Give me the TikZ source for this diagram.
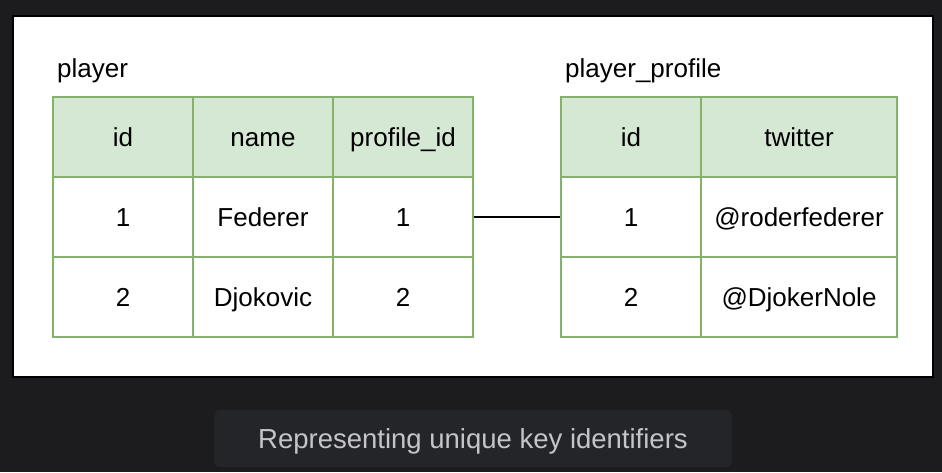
\documentclass[tikz,border=0pt]{standalone}
\usepackage{fontspec}
\setmainfont{Liberation Sans}
\definecolor{bgdark}{HTML}{1C1C1E}
\definecolor{capfill}{HTML}{242528}
\definecolor{captext}{HTML}{C5C5C9}
\definecolor{hdrfill}{HTML}{D5E8D4}
\definecolor{cellline}{HTML}{82B366}
\newcommand\tabfont{\fontsize{26}{30}\selectfont}
\newcommand\capfont{\fontsize{27.5}{32}\selectfont}
\tikzset{
  cell/.style={draw=cellline, line width=2pt, minimum width=140pt, minimum height=80pt, inner sep=0pt, font=\tabfont, text=black, text height=18.6pt, text depth=0pt},
  hdr/.style={cell, fill=hdrfill},
  wide/.style={minimum width=196pt},
  title/.style={anchor=base west, font=\tabfont, text=black, inner sep=0pt},
}
\begin{document}
\begin{tikzpicture}[x=1pt,y=-1pt]
\useasboundingbox (0,0) rectangle (942,472);
\fill[bgdark] (0,0) rectangle (942,472);
% panel
\draw[fill=white, draw=black, line width=2pt] (13,16) rectangle (933,377);
% titles
\node[title] (tplayer) at (57,77) {player};
\node[title] (tprofile) at (565,77) {player\_profile};
% player table
\node[hdr] (p01) at (123,137) {id};
\node[hdr] (p02) at (263,137) {name};
\node[hdr] (p03) at (403,137) {profile\_id};
\node[cell] (p11) at (123,217) {1};
\node[cell] (p12) at (263,217) {Federer};
\node[cell] (p13) at (403,217) {1};
\node[cell] (p21) at (123,297) {2};
\node[cell] (p22) at (263,297) {Djokovic};
\node[cell] (p23) at (403,297) {2};
% player_profile table
\node[hdr] (q01) at (631,137) {id};
\node[hdr, wide] (q02) at (799,137) {twitter};
\node[cell] (q11) at (631,217) {1};
\node[cell, wide] (q12) at (799,217) {@roderfederer};
\node[cell] (q21) at (631,297) {2};
\node[cell, wide] (q22) at (799,297) {@DjokerNole};
% connector
\draw[line width=2pt, black] (p13.east) -- (q11.west);
% caption
\node[fill=capfill, rounded corners=6pt, minimum width=518pt, minimum height=57pt, inner sep=0pt, text=captext, font=\capfont, text height=19.7pt, text depth=0pt] (cap) at (473,438.5) {Representing unique key identifiers};
\end{tikzpicture}
\end{document}
